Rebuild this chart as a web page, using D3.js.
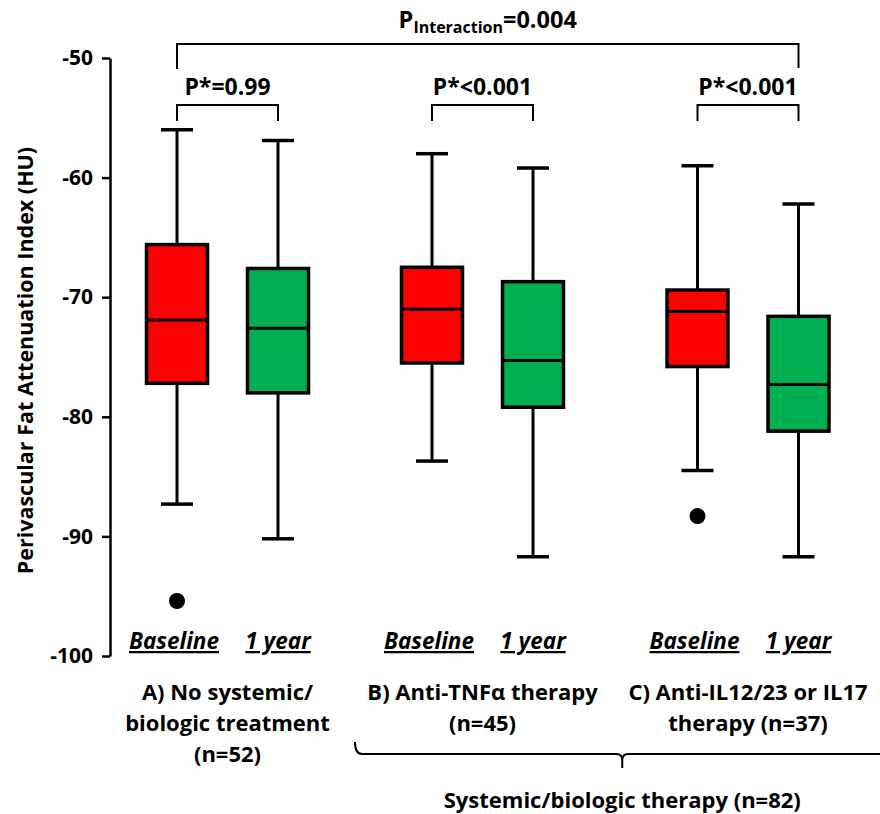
<!DOCTYPE html>
<html>
<head>
<meta charset="utf-8">
<script src="https://cdn.jsdelivr.net/npm/d3@7"></script>
<style>
  body { margin: 0; background: #fff; }
  text { font-family: "Open Sans", Lato, sans-serif; font-weight: bold; fill: #000; }
</style>
</head>
<body>
<div id="chart"></div>
<script>
// data
var groups = ["A", "B", "C"];
var times = ["Baseline", "1 year"];
var groupLabels = [
  ["A) No systemic/", "biologic treatment", "(n=52)"],
  ["B) Anti-TNFα therapy", "(n=45)"],
  ["C) Anti-IL12/23 or IL17", "therapy (n=37)"]
];
// one entry per box: A-baseline, A-1yr, B-baseline, B-1yr, C-baseline, C-1yr
var whiskerLow  = [-87.3, -90.2, -83.7, -91.7, -84.5, -91.7];
var q1          = [-77.2, -78.0, -75.5, -79.2, -75.8, -81.2];
var medians     = [-71.9, -72.6, -71.0, -75.3, -71.2, -77.3];
var q3          = [-65.6, -67.6, -67.5, -68.7, -69.4, -71.6];
var whiskerHigh = [-56.0, -56.9, -58.0, -59.2, -59.0, -62.2];
var outliers = [{box: 0, value: -95.4}, {box: 4, value: -88.3}];
var pWithin = ["P*=0.99", "P*<0.001", "P*<0.001"];
var pInteraction = "=0.004";
var yTicks = [-100, -90, -80, -70, -60, -50];

var width = 880, height = 814;

var svg = d3.select("#chart")
  .append("svg")
  .attr("width", width)
  .attr("height", height);

var y = d3.scaleLinear().domain([-100, -50]).range([656, 58]);
var xGroup = d3.scaleOrdinal().domain(groups).range([227.5, 482.5, 748]);
var xTime = d3.scalePoint().domain(times).range([-50.5, 50.5]);
var color = d3.scaleOrdinal().domain(times).range(["#ff0000", "#00b050"]);

var boxes = [];
groups.forEach(function(g, gi) {
  times.forEach(function(t, ti) {
    var i = gi * 2 + ti;
    boxes.push({group: g, time: t, lo: whiskerLow[i], q1: q1[i], med: medians[i], q3: q3[i], hi: whiskerHigh[i]});
  });
});
function cx(d) { return xGroup(d.group) + xTime(d.time); }

var boxW = 61, capW = 32;

// y axis
var yAxis = svg.append("g")
  .attr("transform", "translate(110,0)")
  .call(d3.axisLeft(y).tickValues(yTicks).tickSize(8).tickSizeOuter(0).tickPadding(9)
    .tickFormat(function(d) { return String(d); }));
yAxis.select(".domain").attr("stroke-width", 2.5);
yAxis.selectAll(".tick line").attr("stroke-width", 2.5);
yAxis.selectAll(".tick text")
  .style("font-size", "21px")
  .style("font-family", "'Open Sans', sans-serif")
  .style("font-weight", "bold")
  .attr("fill", "#000");

svg.append("text")
  .attr("transform", "translate(33," + y(-75.3) + ") rotate(-90)")
  .style("text-anchor", "middle")
  .style("font-size", "21.5px")
  .text("Perivascular Fat Attenuation Index (HU)");

// whiskers
var bp = svg.selectAll(".box")
  .data(boxes)
  .enter()
  .append("g")
  .attr("class", "box");

bp.append("line")
  .attr("x1", cx).attr("x2", cx)
  .attr("y1", function(d) { return y(d.hi); })
  .attr("y2", function(d) { return y(d.lo); })
  .attr("stroke", "#000").attr("stroke-width", 3);

bp.selectAll(".cap")
  .data(function(d) { return [d.hi, d.lo].map(function(v) { return {x: cx(d), v: v}; }); })
  .enter()
  .append("line")
  .attr("x1", function(c) { return c.x - capW / 2; })
  .attr("x2", function(c) { return c.x + capW / 2; })
  .attr("y1", function(c) { return y(c.v); })
  .attr("y2", function(c) { return y(c.v); })
  .attr("stroke", "#000").attr("stroke-width", 3.5);

bp.append("rect")
  .attr("x", function(d) { return cx(d) - boxW / 2; })
  .attr("width", boxW)
  .attr("y", function(d) { return y(d.q3); })
  .attr("height", function(d) { return y(d.q1) - y(d.q3); })
  .attr("fill", function(d) { return color(d.time); })
  .attr("stroke", "#000").attr("stroke-width", 3.5);

bp.append("line")
  .attr("x1", function(d) { return cx(d) - boxW / 2; })
  .attr("x2", function(d) { return cx(d) + boxW / 2; })
  .attr("y1", function(d) { return y(d.med); })
  .attr("y2", function(d) { return y(d.med); })
  .attr("stroke", "#000").attr("stroke-width", 3);

svg.selectAll(".outlier")
  .data(outliers)
  .enter()
  .append("circle")
  .attr("class", "outlier")
  .attr("r", 8)
  .attr("cx", function(d) { return cx(boxes[d.box]); })
  .attr("cy", function(d) { return y(d.value); })
  .attr("fill", "#000");

// time labels
boxes.forEach(function(d) {
  svg.append("text")
    .attr("x", cx(d) - (d.time === "Baseline" ? 3 : 0))
    .attr("y", 649)
    .style("text-anchor", "middle")
    .style("font-size", "22.5px")
    .style("font-style", "italic")
    .style("text-decoration", "underline")
    .text(d.time);
});

// group labels
groups.forEach(function(g, gi) {
  groupLabels[gi].forEach(function(line, li) {
    svg.append("text")
      .attr("x", xGroup(g))
      .attr("y", 700 + li * 31)
      .style("text-anchor", "middle")
      .style("font-size", "22px")
      .text(line);
  });
});

// within-group brackets
groups.forEach(function(g, gi) {
  var a = xGroup(g) + xTime("Baseline"), b = xGroup(g) + xTime("1 year");
  svg.append("path")
    .attr("d", "M" + a + ",121V105H" + b + "V121")
    .attr("fill", "none").attr("stroke", "#000").attr("stroke-width", 2);
  svg.append("text")
    .attr("x", (a + b) / 2)
    .attr("y", 95)
    .style("text-anchor", "middle")
    .style("font-size", "23px")
    .text(pWithin[gi]);
});

// interaction bracket
var ia = xGroup("A") + xTime("Baseline"), ib = xGroup("C") + xTime("1 year");
svg.append("path")
  .attr("d", "M" + ia + ",69V44H" + ib + "V68")
  .attr("fill", "none").attr("stroke", "#000").attr("stroke-width", 2);
var pt = svg.append("text")
  .attr("x", (ia + ib) / 2)
  .attr("y", 28)
  .style("text-anchor", "middle")
  .style("font-size", "23.5px");
pt.append("tspan").text("P");
pt.append("tspan").attr("dy", 5).style("font-size", "16px").text("Interaction");
pt.append("tspan").attr("dy", -5).text(pInteraction);

// brace under B and C
var braceMid = (xGroup("B") + xGroup("C")) / 2 + 7;
svg.append("path")
  .attr("d", "M355,742Q355,754 362,754H" + (braceMid - 6) + "Q" + braceMid + ",754 " + braceMid + ",760V768"
    + "M" + braceMid + ",760Q" + braceMid + ",754 " + (braceMid + 6) + ",754H890")
  .attr("fill", "none").attr("stroke", "#000").attr("stroke-width", 2);
svg.append("text")
  .attr("x", braceMid)
  .attr("y", 808)
  .style("text-anchor", "middle")
  .style("font-size", "22px")
  .text("Systemic/biologic therapy (n=82)");
</script>
</body>
</html>
